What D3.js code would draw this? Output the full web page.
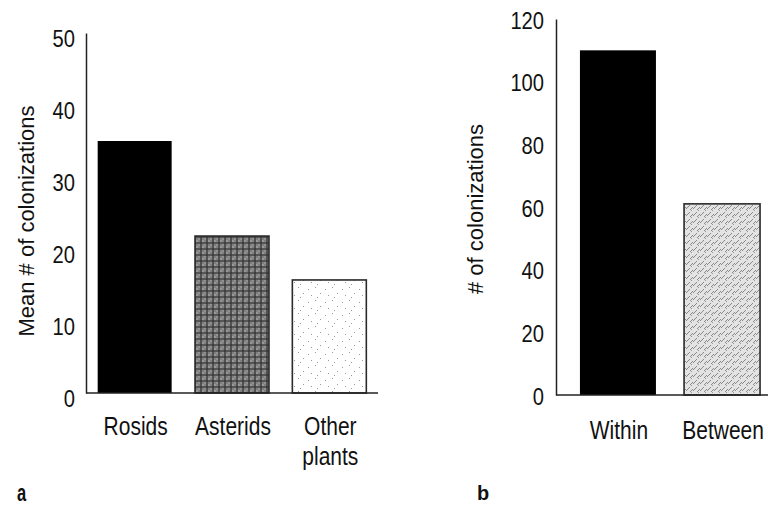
<!DOCTYPE html>
<html><head><meta charset="utf-8">
<script src="https://cdn.jsdelivr.net/npm/d3@7"></script>
<style>
html,body{margin:0;padding:0;background:#fff;}
svg{display:block;}
.tick text,.cat{font-family:"Liberation Sans",Arial,sans-serif;fill:#111;}
.ttl{font-family:"Liberation Sans",Arial,sans-serif;fill:#111;}
</style></head><body>
<script>
// Panel a data
const catsA = ["Rosids", "Asterids", "Other plants"];
const valsA = [35, 21.8, 15.7];
const fillsA = ["solid", "dark", "dots"];
const ticksA = [0, 10, 20, 30, 40, 50];
// Panel b data
const catsB = ["Within", "Between"];
const valsB = [110, 61];
const fillsB = ["solid", "light"];
const ticksB = [0, 20, 40, 60, 80, 100, 120];

const W = 768, H = 506, SX = 0.84;
const svg = d3.select("body").append("svg").attr("width", W).attr("height", H);
const defs = svg.append("defs");

// patterns
const pDark = defs.append("pattern").attr("id","dark").attr("patternUnits","userSpaceOnUse").attr("width",6).attr("height",6);
pDark.append("rect").attr("width",6).attr("height",6).attr("fill","#7f7f7f");
pDark.append("path").attr("d","M0,3H6M3,0V6").attr("stroke","#151515").attr("stroke-width",1.1).attr("opacity",0.8);
pDark.append("rect").attr("x",4.5).attr("y",0.5).attr("width",1).attr("height",1).attr("fill","#e0e0e0");
pDark.append("rect").attr("x",0.5).attr("y",4.5).attr("width",1).attr("height",1).attr("fill","#c4c4c4");

const pLight = defs.append("pattern").attr("id","light").attr("patternUnits","userSpaceOnUse").attr("width",7).attr("height",7);
pLight.append("rect").attr("width",7).attr("height",7).attr("fill","#e3e3e3");
pLight.append("path").attr("d","M0,6L4,2M4,7L7,4").attr("stroke","#8a8a8a").attr("stroke-width",1);
pLight.append("rect").attr("x",5).attr("y",0).attr("width",1).attr("height",1).attr("fill","#999");

const pDots = defs.append("pattern").attr("id","dots").attr("patternUnits","userSpaceOnUse").attr("width",17).attr("height",13);
pDots.append("rect").attr("width",17).attr("height",13).attr("fill","#fff");
[[2,3],[9,1],[14,7],[5,9],[11,11]].forEach(([x,y])=>pDots.append("rect").attr("x",x).attr("y",y).attr("width",1).attr("height",1).attr("fill","#9a9a9a"));

function fillOf(k){ return k==="solid" ? "#000" : "url(#"+k+")"; }

function panel(cfg){
  const g = svg.append("g");
  const y = d3.scaleLinear().domain([0, cfg.max]).range([cfg.y0, cfg.y1]);
  const x = d3.scaleBand().domain(cfg.cats).range(cfg.xr).paddingInner(cfg.pi).paddingOuter(cfg.po);
  // bars
  g.selectAll("rect.bar").data(cfg.cats).join("rect").attr("class","bar")
    .attr("x", d=>x(d)).attr("width", x.bandwidth())
    .attr("y", (d,i)=>y(cfg.vals[i])).attr("height",(d,i)=>y(0)-y(cfg.vals[i]))
    .attr("fill",(d,i)=>fillOf(cfg.fills[i]))
    .attr("stroke",(d,i)=>cfg.fills[i]==="solid"?"none":"#2a2a2a")
    .attr("stroke-width",1.6);
  // y axis
  const ax = g.append("g").attr("transform","translate("+cfg.xr[0]+",0)")
    .call(d3.axisLeft(y).tickValues(cfg.ticks).tickSize(0).tickSizeOuter(0).tickPadding(cfg.tp).tickFormat(d3.format("d")));
  ax.select(".domain").attr("stroke","#222").attr("stroke-width",1.5);
  ax.selectAll(".tick text").attr("font-size",24).attr("dy",cfg.ldy)
    .attr("x", -cfg.tp/SX).attr("transform","scale("+SX+",1)");
  // x axis line
  g.append("line").attr("x1",cfg.xr[0]).attr("x2",cfg.xend).attr("y1",y(0)).attr("y2",y(0))
    .attr("stroke","#222").attr("stroke-width",1.5);
  // category labels
  cfg.cats.forEach((c,i)=>{
    const parts = c === "Other plants" ? ["Other","plants"] : [c];
    const cx = x(c)+x.bandwidth()/2 + cfg.lx;
    const t = g.append("text").attr("class","cat").attr("font-size",25).attr("text-anchor","middle")
      .attr("transform","translate("+cx+","+cfg.ly+") scale("+SX+",1)");
    parts.forEach((p,j)=>t.append("tspan").attr("x",0).attr("dy", j?30:0).text(p));
  });
  // title
  g.append("text").attr("class","ttl").attr("font-size",22).attr("text-anchor","middle")
    .attr("transform","translate("+cfg.tx+","+cfg.ty+") rotate(-90)").text(cfg.title);
  // panel letter
  g.append("text").attr("class","ttl").attr("font-size",cfg.pfs).attr("font-weight","bold")
    .attr("transform","translate("+cfg.px+","+cfg.py+") scale("+cfg.psx+",1)").text(cfg.letter);
}

panel({cats:catsA, vals:valsA, fills:fillsA, ticks:ticksA, max:50, y0:393, y1:33,
  xr:[86,378], pi:0.24, po:0.12, xend:378, tp:11, ldy:"0.57em", lx:1, ly:435,
  title:"Mean # of colonizations", tx:34, ty:221, letter:"a", px:17, py:501, pfs:23, psx:0.72});
panel({cats:catsB, vals:valsB, fills:fillsB, ticks:ticksB, max:120, y0:395, y1:19,
  xr:[556,784], pi:0.27, po:0.23, xend:768, tp:12, ldy:"0.38em", lx:1, ly:439,
  title:"# of colonizations", tx:483, ty:209, letter:"b", px:477, py:500, pfs:21, psx:0.95});
</script>
</body></html>
